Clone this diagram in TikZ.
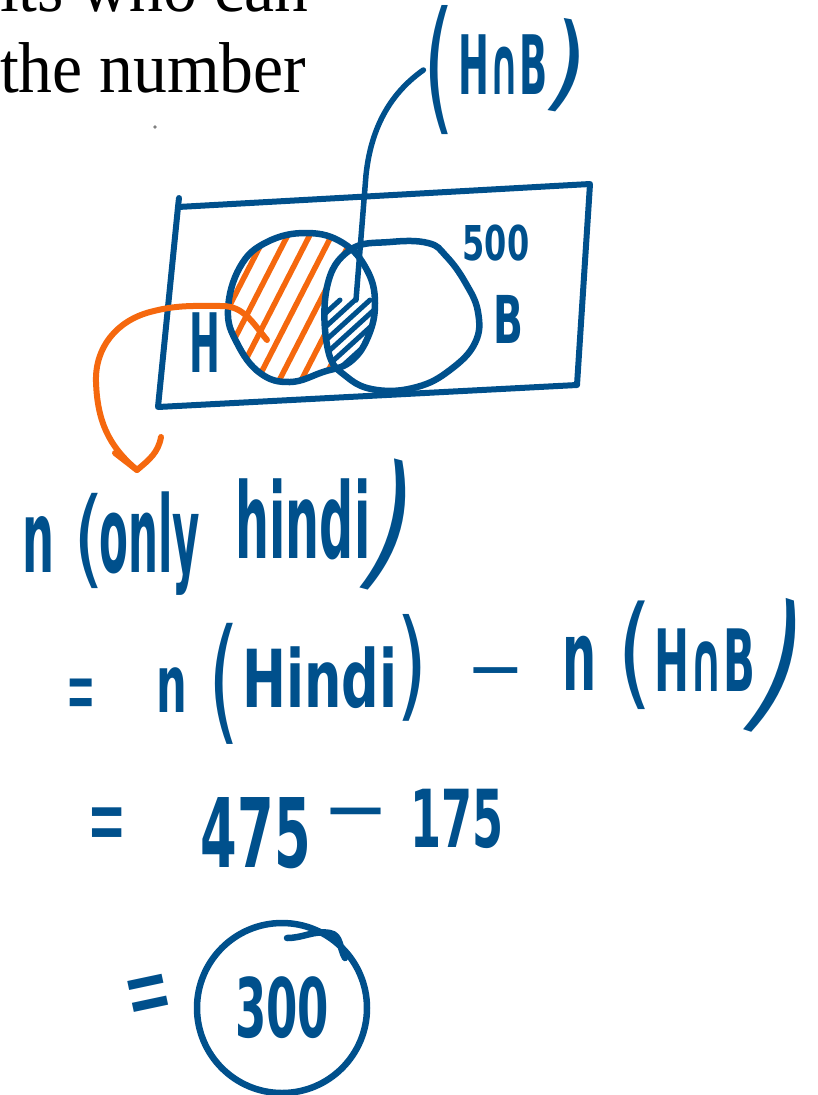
\documentclass[tikz,border=0pt]{standalone}
\usepackage{fontspec}
\usepackage{graphicx}
\newfontfamily\hand{DejaVu Sans}
\newfontfamily\prt{Liberation Serif}
\definecolor{ink}{RGB}{0,80,140}
\definecolor{org}{RGB}{245,104,14}
% #1 size, #2 xscale, #3 yscale, #4 text (bold letters)
\newcommand\hw[4]{{\fontsize{#1pt}{#1pt}\selectfont\bfseries\scalebox{\fpeval{#2*0.9}}[#3]{#4}}}
% regular weight (parentheses, signs)
\newcommand\hr[4]{{\fontsize{#1pt}{#1pt}\selectfont\scalebox{#2}[#3]{#4}}}
\begin{document}
\begin{tikzpicture}[x=1pt,y=-1pt,
  pen/.style={draw=ink,line width=6.5pt,line cap=round,line join=round},
  open/.style={draw=org,line width=6pt,line cap=round,line join=round},
  hatchO/.style={draw=org,line width=5.5pt,line cap=round},
  hatchB/.style={draw=ink,line width=5pt,line cap=round},
  wr/.style={inner sep=0pt,outer sep=0pt,text=ink,font=\hand},
  pr/.style={inner sep=0pt,outer sep=0pt,text=black,font=\prt}]
\useasboundingbox (0,0) rectangle (817,1095);
\clip (0,0) rectangle (817,1095);
% printed text
\node[pr,anchor=base west] (p1) at (0,11) {\hr{72}{0.94}{1}{its who can}};
\node[pr,anchor=base west] (p2) at (0,92) {\hr{72}{0.94}{1}{the number}};
\fill[gray] (155,127) circle[radius=1.8pt];
% frame
\coordinate (r1) at (178,207);
\coordinate (r2) at (590,184);
\coordinate (r3) at (577,385);
\coordinate (r4) at (158,407);
\draw[pen,line width=6pt] (r1) -- (r2) -- (r3) -- (r4) -- cycle;
\draw[pen,line width=6pt] (r1) -- (179,198);
% sets
\path[save path=\Hp] plot[smooth cycle,tension=0.7] coordinates {(228,310) (240,267) (267,242) (307,233) (343,243) (367,270) (375,303) (368,337) (350,362) (323,372) (290,382) (260,373) (237,343)};
\path[save path=\Bp] plot[smooth cycle,tension=0.7] coordinates {(327,287) (350,250) (390,242) (428,243) (446,256) (465,282) (478,312) (475,343) (450,370) (417,387) (377,390) (347,377) (328,350)};
\begin{scope}
  \clip[use path=\Hp];
  \foreach \x in {176,198,...,380} \draw[hatchO] (\x,410) -- ++(95,-185);
  \fill[white,use path=\Bp];
  \begin{scope}
    \clip[use path=\Bp];
    \foreach \x in {230,245,...,420} \draw[hatchB] (\x,400) -- ++(110,-100);
  \end{scope}
\end{scope}
\draw[pen,use path=\Hp];
\draw[pen,use path=\Bp];
% labels in diagram
\node[wr] (l500) at (496,243) {\hw{48}{0.74}{1}{500}};
\node[wr] (lB) at (508,319) {\hw{66}{0.66}{1}{B}};
\node[wr] (lH) at (205,343) {\hw{82}{0.5}{1}{H}};
% top label (H∩B)
\node[wr] (hbL) at (439,70) {\hr{100}{0.8}{1.45}{(}};
\node[wr] (hbM) at (503,65) {\hw{82}{0.5}{1}{H∩B}};
\node[wr,rotate=-10] (hbR) at (567,66) {\hr{100}{1.0}{1.05}{)}};
\coordinate (pe) at (356,300);
\draw[pen,line width=5.5pt] (hbL.west) .. controls (398,88) and (372,118) .. (366,175) -- (pe);
% orange arrow
\coordinate (os) at (267,340);
\coordinate (at) at (137,470);
\draw[open] (os) to[out=130,in=0] (222,306) to[out=180,in=15] (150,312) to[out=195,in=92] (96,382) to[out=-88,in=140] (at);
\draw[open] (115,453) -- (at) to[out=40,in=-100] (161,437);
% line 1
\node[wr,anchor=base] (e1n) at (39,572) {\hw{100}{0.5}{1}{n}};
\node[wr] (e1l) at (89,541) {\hr{100}{0.8}{1.07}{(}};
\node[wr,anchor=base] (e1a) at (150,572) {\hw{85}{0.55}{1.25}{only}};
\node[wr,anchor=base] (e1b) at (303,558) {\hw{100}{0.53}{1.05}{hindi}};
\node[wr,rotate=-15] (e1r) at (389,527) {\hr{100}{1.1}{1.5}{)}};
% line 2
\node[wr] (e2q) at (81,701) {\hr{70}{0.5}{1.4}{=}};
\node[wr,anchor=base] (e2n) at (172,712) {\hw{80}{0.6}{1}{n}};
\node[wr] (e2l) at (224,684) {\hr{100}{0.8}{1.36}{(}};
\node[wr,anchor=base] (e2h) at (320,707) {\hw{80}{0.73}{1}{Hindi}};
\node[wr] (e2r) at (412,668) {\hr{100}{0.8}{1.2}{)}};
\node[wr] (e2m) at (496,680) {\hr{70}{1}{1}{−}};
\node[wr,anchor=base] (e2n2) at (580,690) {\hw{97}{0.55}{1}{n}};
\node[wr] (e2l2) at (635,655) {\hr{100}{0.9}{1.22}{(}};
\node[wr,anchor=base] (e2hb) at (705,691) {\hw{86}{0.54}{1}{H∩B}};
\node[wr,rotate=-18] (e2r2) at (777,668) {\hr{100}{1.1}{1.55}{)}};
% line 3
\node[wr] (e3q) at (107,832) {\hr{70}{0.67}{1.5}{=}};
\node[wr] (e3a) at (256,833) {\hw{96}{0.61}{1}{475}};
\node[wr] (e3m) at (356,822) {\hr{80}{1}{1}{−}};
\node[wr] (e3b) at (457,819) {\hw{80}{0.62}{1}{175}};
% line 4
\node[wr,rotate=12] (e4q) at (150,1003) {\hr{70}{0.8}{1.6}{=}};
\node[wr,circle,draw=ink,line width=6.5pt,minimum size=170pt] (ans) at (282,1008) {\hw{82}{0.61}{1}{300}};
\draw[pen] (287,938) to[out=0,in=170] (330,933) to[out=-10,in=120] (345,958);
\end{tikzpicture}
\end{document}
